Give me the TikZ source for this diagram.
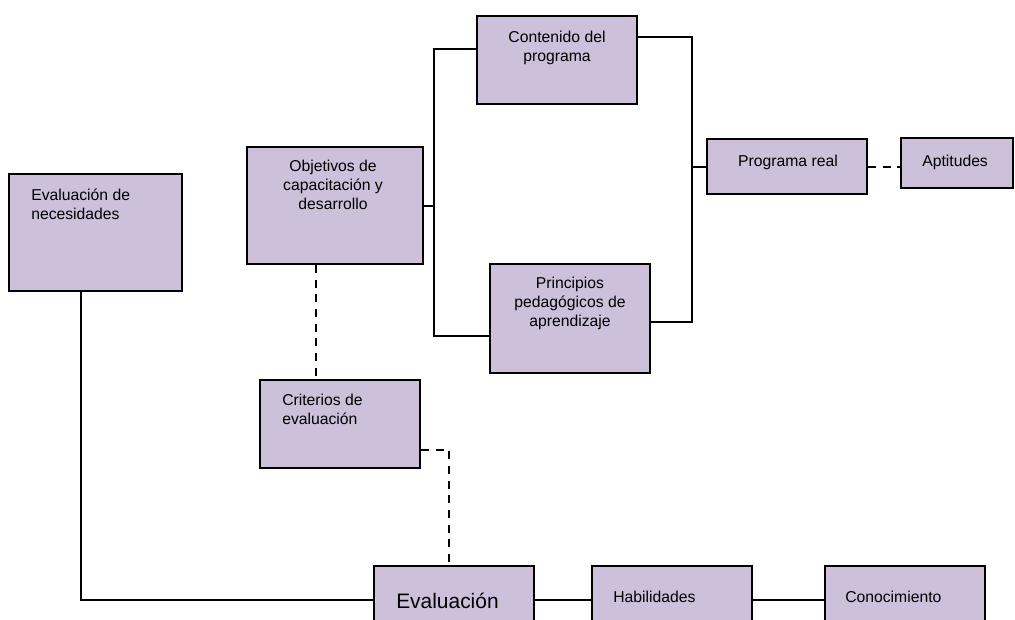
\documentclass[tikz,border=0pt]{standalone}
\usepackage{fontspec}
\setmainfont{Liberation Sans}
\usetikzlibrary{calc}
\definecolor{lav}{RGB}{204,192,218}
\begin{document}
\begin{tikzpicture}[x=0.75pt,y=-0.75pt,
  box/.style={draw=black,line width=1.5pt,fill=lav,rectangle,inner sep=0pt},
  conn/.style={line width=1.5pt},
  dconn/.style={line width=1.5pt,dash pattern=on 6pt off 5pt},
  txt/.style={inner sep=0pt,font=\fontsize{11.8}{13.9}\selectfont},
  txtl/.style={txt,align=left,anchor=base west},
  txtc/.style={txt,align=center,anchor=base}]
\useasboundingbox (0,0) rectangle (1015,619);
\clip (0,0) rectangle (1015,619);
% boxes
\node[box,minimum width=129.75pt,minimum height=87.75pt] (nec) at (95.5,232.5) {};
\node[box,minimum width=132pt,minimum height=87.75pt] (obj) at (335,205.5) {};
\node[box,minimum width=120pt,minimum height=66pt] (cont) at (557,60) {};
\node[box,minimum width=120pt,minimum height=81.75pt] (prin) at (570,318.5) {};
\node[box,minimum width=120pt,minimum height=41.25pt] (prog) at (787,166.5) {};
\node[box,minimum width=84pt,minimum height=37.5pt] (apt) at (957,163) {};
\node[box,minimum width=120pt,minimum height=66pt] (crit) at (340,424) {};
\node[box,minimum width=120pt,minimum height=85.5pt] (eval) at (454,623) {};
\node[box,minimum width=120pt,minimum height=85.5pt] (hab) at (672,623) {};
\node[box,minimum width=120pt,minimum height=85.5pt] (con) at (905,623) {};
% texts (base anchor = baseline of last line)
\node[txtl] (tnec) at (31,219) {Evaluación de\\necesidades};
\node[txtc] (tobj) at (333,209) {Objetivos de\\capacitación y\\desarrollo};
\node[txtc] (tcont) at (557,61) {Contenido del\\programa};
\node[txtc] (tprin) at (570,326) {Principios\\pedagógicos de\\aprendizaje};
\node[txtc] (tprog) at (788,166) {Programa real};
\node[txtl] (tapt) at (922,166) {Aptitudes};
\node[txtl] (tcrit) at (282,424) {Criterios de\\evaluación};
\node[txt,anchor=base west,font=\fontsize{15.7}{18}\selectfont] (teval) at (396,608) {Evaluación};
\node[txtl] (thab) at (613,602) {Habilidades};
\node[txtl] (tcon) at (845,602) {Conocimiento};
% bus coordinates
\coordinate (bL1) at (434,49);
\coordinate (bL2) at (434,336);
\coordinate (bR1) at (692,37);
\coordinate (bR2) at (692,322);
\coordinate (d1) at (316,0);
\coordinate (d2) at (449,0);
\coordinate (d3) at (81,0);
\coordinate (h) at (0,600);
% connectors
\draw[conn] ($(cont.west)+(0,-11)$) -- (bL1) -- (bL2) -- ($(prin.west)+(0,17.5)$);
\draw[conn] (obj.east) -- (obj.east -| bL1);
\draw[conn] ($(cont.east)+(0,-23)$) -- (bR1) -- (bR2) -- ($(prin.east)+(0,3.5)$);
\draw[conn] (prog.west) -- (prog.west -| bR1);
\draw[dconn] (prog.east) -- (prog.east -| apt.west);
\draw[dconn] (obj.south -| d1) -- (crit.north -| d1);
\draw[dconn] ($(crit.east)+(0,26)$) -| (eval.north -| d2);
\draw[conn] (nec.south -| d3) |- (eval.west |- h);
\draw[conn] (eval.east |- h) -- (hab.west |- h);
\draw[conn] (hab.east |- h) -- (con.west |- h);
\end{tikzpicture}
\end{document}
